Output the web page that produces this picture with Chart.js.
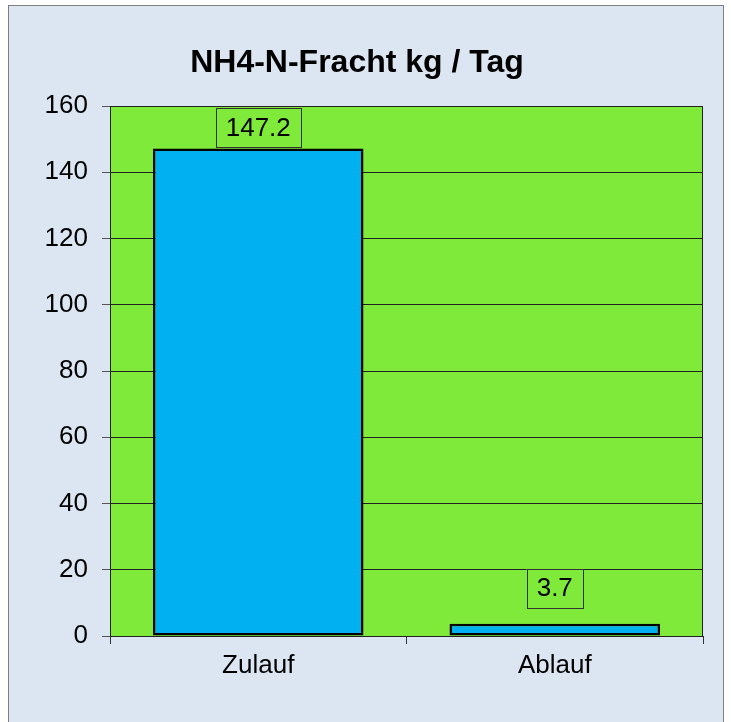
<!DOCTYPE html>
<html>
<head>
<meta charset="utf-8">
<script src="https://cdn.jsdelivr.net/npm/chart.js@4"></script>
<style>
  body { margin: 0; background: #fff; }
  .frame { position: absolute; left: 8px; top: 5px; width: 714px; height: 720px;
           border: 1px solid #7f7f7f; background: #dce6f2; }
  #wrap { position: absolute; left: 0; top: 0; width: 731px; height: 722px; }
</style>
</head>
<body>
<div class="frame"></div>
<div id="wrap"><canvas id="myChart"></canvas></div>
<script>
const labels = ['Zulauf', 'Ablauf'];
const fracht = [147.2, 3.7];
const titleText = 'NH4-N-Fracht kg / Tag';

// green plot area + frame, title and boxed value labels
const plotDeco = {
  id: 'plotDeco',
  beforeDraw(chart) {
    const a = chart.chartArea, c = chart.ctx;
    c.save();
    c.fillStyle = '#80ea3a';
    c.fillRect(a.left, a.top, a.right - a.left, a.bottom - a.top);
    c.restore();
  },
  afterDatasetsDraw(chart) {
    const a = chart.chartArea, c = chart.ctx;
    c.save();
    c.strokeStyle = '#222';
    c.lineWidth = 1;
    c.strokeRect(a.left + 0.5, a.top + 0.5, a.right - a.left - 1, a.bottom - a.top);

    c.fillStyle = '#000';
    c.font = 'bold 32px "Liberation Sans", Arial, sans-serif';
    c.textAlign = 'center';
    c.textBaseline = 'middle';
    c.fillText(titleText, 357, 63);

    c.font = '26px "Liberation Sans", Arial, sans-serif';
    const meta = chart.getDatasetMeta(0);
    meta.data.forEach((bar, i) => {
      const txt = String(fracht[i]);
      const w = c.measureText(txt).width + 20;
      const h = 39;
      let top = bar.y - 16 - h;
      if (top < a.top + 2) top = a.top + 2;
      const left = bar.x - w / 2;
      c.fillStyle = '#80ea3a';
      c.fillRect(left, top, w, h);
      c.strokeStyle = '#333';
      c.lineWidth = 1;
      c.strokeRect(Math.round(left) + 0.5, Math.round(top) + 0.5, Math.round(w), h);
      c.fillStyle = '#000';
      c.fillText(txt, bar.x, top + h / 2 + 1);
    });
    c.restore();
  }
};

new Chart(document.getElementById('myChart'), {
  type: 'bar',
  data: {
    labels: labels,
    datasets: [{
      data: fracht,
      backgroundColor: '#00b0f0',
      borderColor: '#000',
      borderWidth: 2.5,
      borderSkipped: false,
      barPercentage: 0.71,
      categoryPercentage: 1
    }]
  },
  options: {
    responsive: true,
    maintainAspectRatio: false,
    animation: false,
    layout: { padding: { top: 106, right: 28, left: 0, bottom: 0 } },
    plugins: { legend: { display: false }, tooltip: { enabled: false } },
    scales: {
      x: {
        afterFit(s) { s.height = 86; },
        grid: { drawOnChartArea: false, drawTicks: true, tickLength: 8, color: '#333', offset: true },
        border: { color: '#222' },
        ticks: { color: '#000', padding: 6, font: { family: '"Liberation Sans", Arial, sans-serif', size: 26 } }
      },
      y: {
        min: 0,
        max: 160,
        afterFit(s) { s.width = 110; },
        grid: { color: '#222', tickLength: 8, tickColor: '#555' },
        border: { color: '#222' },
        ticks: { stepSize: 20, color: '#000', padding: 14, font: { family: '"Liberation Sans", Arial, sans-serif', size: 26 } }
      }
    }
  },
  plugins: [plotDeco]
});
</script>
</body>
</html>
